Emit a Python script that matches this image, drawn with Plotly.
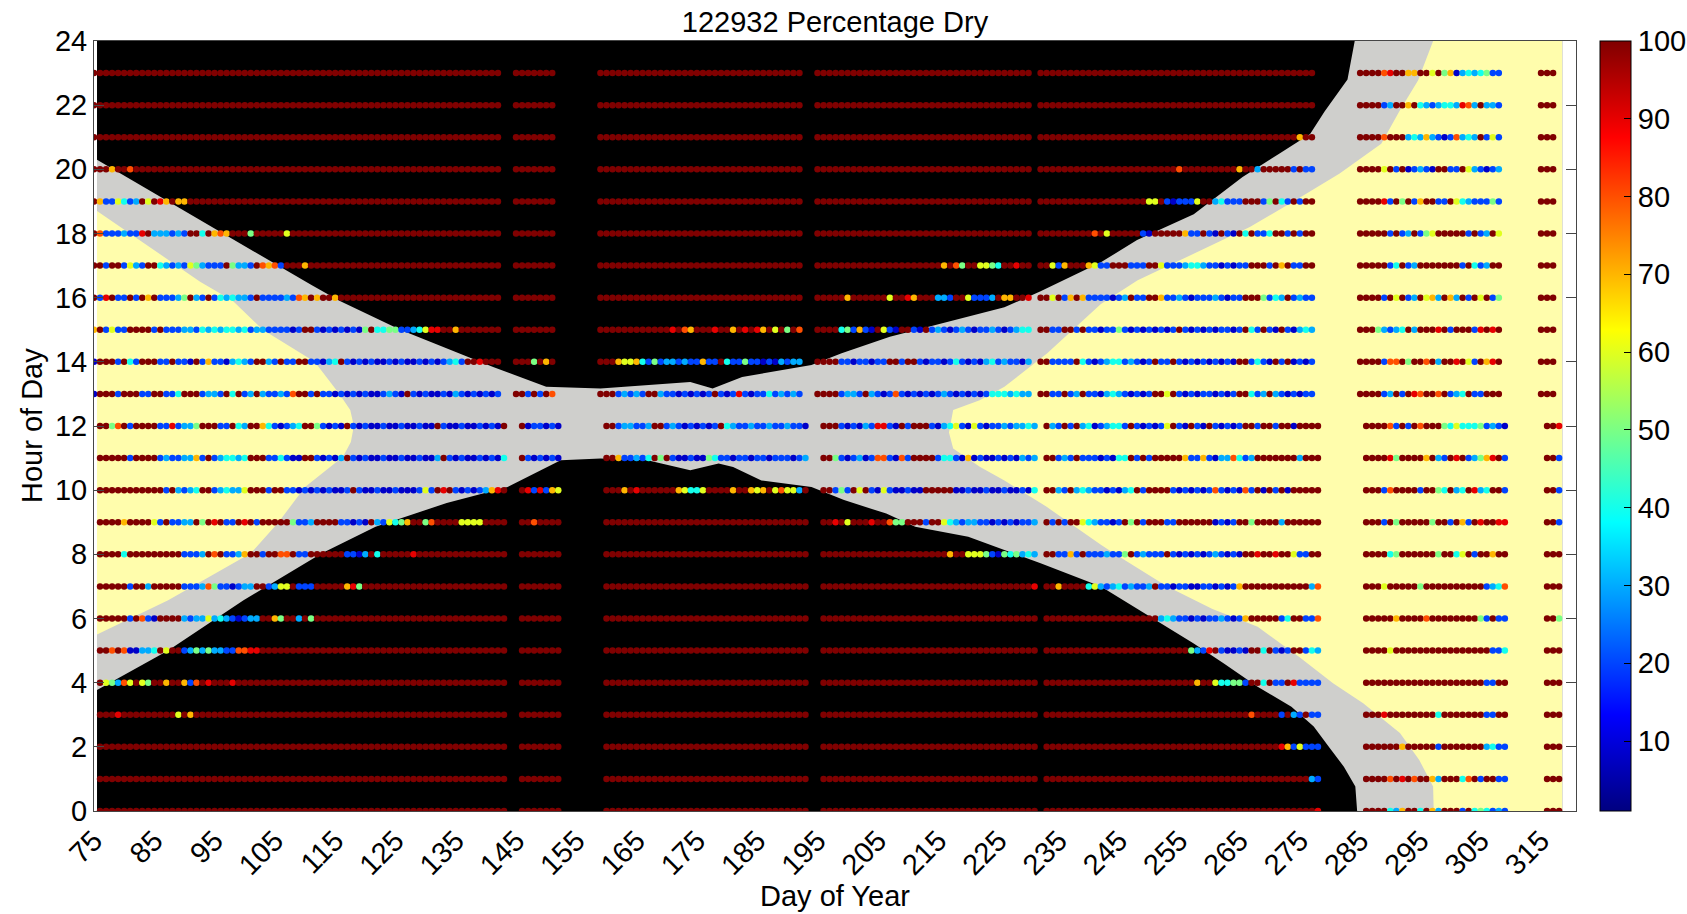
import plotly.graph_objects as go

# ---------------------------------------------------------------- text / ticks
TITLE = "122932 Percentage Dry"
X_LABEL = "Day of Year"
Y_LABEL = "Hour of Day"
X_TICKS = [75, 85, 95, 105, 115, 125, 135, 145, 155, 165, 175, 185, 195,
           205, 215, 225, 235, 245, 255, 265, 275, 285, 295, 305, 315]
Y_TICKS = [0, 2, 4, 6, 8, 10, 12, 14, 16, 18, 20, 22, 24]
CBAR_TICKS = [10, 20, 30, 40, 50, 60, 70, 80, 90, 100]
X_RANGE = [75, 320.8]
Y_RANGE = [0, 24]
C_RANGE = [1, 100]

# ---------------------------------------------------------------- background (light regime)
BG_X = [75.5, 318.5]  # extent of the background image, in days
# lower edge of twilight (end of night, morning)
NIGHT_END_DAY = [75.5, 87.3, 99.8, 112.8, 121.7, 133.5, 143.6, 149, 152.4, 159, 166.8,
                 173.9, 178.6, 181, 185.7, 194, 199.4, 206.4, 211.2, 220, 232, 242,
                 251.2, 257.4, 262.4, 268, 273.6, 277.3, 279.8, 282.3, 284.2, 284.5, 318.5]
NIGHT_END_HOUR = [3.77, 5.0, 6.57, 8.03, 8.86, 9.6, 10.1, 10.62, 10.93, 10.99, 10.93,
                  10.62, 10.83, 10.72, 10.3, 10.1, 9.69, 9.27, 8.86, 8.55, 7.72, 7.0,
                  5.95, 5.22, 4.6, 3.87, 3.25, 2.63, 2.0, 1.38, 0.76, 0.0, 0.0]
# upper edge of twilight (start of night, evening)
NIGHT_START_DAY = [75.5, 111, 115.7, 125.8, 141.2, 150, 159, 166.8, 173.9, 177.6, 182.5,
                   194, 199, 207, 214.7, 226, 232, 242, 248, 257.4, 265.5, 271.7, 276.7,
                   279.1, 282.9, 284.1, 318.5]
NIGHT_START_HOUR = [20.3, 16.4, 15.9, 15.0, 13.84, 13.22, 13.17, 13.27, 13.37, 13.17, 13.53,
                    13.9, 14.27, 14.78, 15.14, 15.7, 16.2, 17.1, 17.8, 18.6, 19.76, 20.5, 21.1,
                    21.8, 22.8, 24.0, 24.0]
# daylight, spring lobe
DAY1_START_DAY = [75.5, 87.3, 101, 105.6, 110, 116.3, 117.6, 118.1]
DAY1_START_HOUR = [5.5, 6.57, 8.03, 9.0, 10.1, 11.04, 11.5, 12.0]
DAY1_END_DAY = [118.1, 117.5, 115.7, 111.6, 103, 98, 92.6, 75.5]
DAY1_END_HOUR = [12.0, 12.5, 13.0, 14.0, 15.0, 15.9, 16.5, 18.7]
# daylight, autumn lobe
DAY2_END_DAY = [216.8, 217.5, 221.9, 226, 233.1, 242, 248.1, 257.4, 266.7, 274.2, 281.6,
                288.5, 291.6, 294.6, 297.1, 318.5]
DAY2_END_HOUR = [11.8, 12.5, 12.8, 13.22, 14.27, 15.8, 16.54, 17.38, 18.2, 19.03, 19.87,
                 20.8, 21.84, 22.77, 24.0, 24.0]
DAY2_START_DAY = [318.5, 297.2, 297.1, 294.8, 291.6, 285.5, 280.5, 274.9, 268, 260.5,
                  253, 244.4, 242, 233, 226, 221.9, 217.5]
DAY2_START_HOUR = [0.0, 0.0, 0.76, 1.59, 2.43, 3.36, 3.98, 4.8, 5.74, 6.3,
                   7.0, 8.0, 8.3, 9.48, 10.3, 10.73, 11.3]

NIGHT_COLOR = "rgb(0,0,0)"
TWILIGHT_COLOR = "rgb(207,207,204)"
DAY_COLOR = "rgb(255,253,172)"

# ---------------------------------------------------------------- dot data
# days covered by each recording block (hours 0-12 and hours 13-23 are offset by one day)
SEGMENTS_AM = [(76, 143), (146, 152), (160, 193), (196, 231), (233, 278), (286, 309), (316, 318)]
SEGMENTS_PM = [(75, 142), (145, 151), (159, 192), (195, 230), (232, 277), (285, 308), (315, 317)]
# one character per day
CODE_VALUE = {"0": 8, "1": 20, "2": 30, "3": 40, "4": 50,
              "5": 60, "6": 70, "7": 80, "8": 90, "9": 100}

HOUR_00 = ["9" * 68, "9" * 7, "9" * 34, "9" * 36, "9" * 45 + "8",
           "999932699396299919343121", "999"]
HOUR_01 = ["9" * 68, "9" * 7, "9" * 34, "9" * 36, "9" * 44 + "21",
           "999979897996299937919911", "999"]
HOUR_02 = ["9" * 68, "9" * 7, "9" * 34, "9" * 36, "9" * 39 + "8615111",
           "999999699999199999992311", "999"]
HOUR_03 = ["999" + "8" + "9" * 9 + "5" + "9" + "6" + "9" * 52, "9" * 7, "9" * 34, "9" * 36,
           "9" * 34 + "7" + "9999" + "1921911",
           "999" + "8" + "9" * 8 + "3" + "9" * 7 + "1199", "999"]
HOUR_04 = ["95427595499699617989998" + "9" * 45, "9" * 7, "9" * 34, "9" * 36,
           "9" * 25 + "699533441993911981111",
           "9" * 20 + "1199", "999"]
HOUR_05 = ["997970022395991242422117788" + "9" * 41, "9" * 7, "9" * 34, "9" * 36,
           "9" * 24 + "4218910010993910199132",
           "9999" + "5" + "9" * 15 + "9113", "999"]
HOUR_06 = ["999991971099992122523210122996499294" + "9" * 32, "9" * 7, "9" * 34, "9" * 36,
           "9" * 19 + "232110101121016999991399117",
           "99999" + "6" + "9999" + "7" + "9" * 8 + "41911", "994"]
HOUR_07 = ["99999" + "1" + "99" + "2" + "99999" + "111274110122" + "99" + "1255" + "9" + "111"
           + "99999" + "684" + "9" * 24,
           "9" * 7, "9" * 34, "9" * 35 + "8",
           "996999935" + "212312112" + "9" + "1" + "101100110101" + "6" + "9" * 11 + "27",
           "999" + "5" + "99999" + "4" + "9" * 10 + "1237", "999"]
HOUR_08 = ["9999" + "3" + "9" * 9 + "111297911269919977911" + "9" * 6 + "110293999998" + "9" * 15,
           "9" * 7, "9" * 34, "9" * 21 + "699555410434232",
           "991161911" + "1211491211191010101210109989989951199",
           "9999" + "34" + "999999" + "4" + "99" + "35" + "9" + "1" + "99" + "6" + "99", "999"]
HOUR_09 = ["9999699995" "1911229498" "9119891999" "9941129999" "1101092153" "4699479999" "55559999",
           "9979999", "9" * 34,
           "9989599989" "9744999199" "5321221101" "010112",
           "9191995321" "1019491999" "1199999901" "0199499992" "999999",
           "9991949999" "9499196198" "9988", "991"]
HOUR_10 = ["9" * 11 + "1921239912322599919911010" + "1010019100" "1001000151" "9891010126" "89",
           "9818165",
           "9996989999" "9965335999" "9699656957" "5529",
           "9914195910" "5100100999" "9900100100" "100103",
           "9921923211" "0102391999" "9101010171" "0107190919" "099999",
           "9991799991" "9943923982" "3991", "991"]
HOUR_11 = ["9999919999" "1211226191" "2332399911" "3100991010" "2910100100" "1001002910" "10010103",
           "9101010",
           "9961121394" "9100100431" "1011011011" "1012",
           "9941012017" "7107199991" "3310601001" "010212",
           "9912191110" "1033919199" "9996116102" "2731299999" "992999",
           "9999849999" "6921989124" "6891", "991"]
HOUR_12 = ["9947919999" "1181224999" "1193299631" "0123994101" "0910100100" "1001009100" "10010109",
           "9011010",
           "9912211299" "1210101019" "3211211211" "2110",
           "9991010218" "8109199910" "2351051011" "212232",
           "9219192301" "2331910101" "5910910910" "1019919919" "909999",
           "9999719197" "9994353334" "1210", "998"]
HOUR_13 = ["0999199911" "9911399912" "2193912921" "1217991911" "0101010012" "1091010010" "21010101",
           "9919197",
           "9991212199" "2110101019" "1018101131" "2121",
           "9999122192" "1017101010" "1210101013" "332322",
           "9911912911" "0232101019" "9591010110" "1019931292" "101011",
           "9999129198" "7997912391" "1999", "999"]
HOUR_14 = ["0999193199" "9119110916" "1102321992" "1911991102" "3910101001" "0100101012" "31998999",
           "9994969",
           "9996556314" "1221211611" "9311411010" "2122",
           "9999110110" "1199199101" "1013101023" "121102",
           "9911119310" "1233121019" "1191010101" "0109913109" "190101",
           "9999177949" "9792998951" "9689", "999"]
HOUR_15 = ["6915119999" "1911122132" "3233231221" "1110199101" "01010" "49334411235889969999999",
           "9999999",
           "9" * 12 + "8976999899698986959497",
           "9999341610" "9510991091" "2101210112" "101233",
           "9911991911" "0114101010" "1019101010" "1101931910" "910232",
           "9994212392" "9998919991" "8989", "999"]
HOUR_16 = ["9189119196" "9111249219" "1323221911" "1121769699" "6" + "9" * 27,
           "9" * 7, "9" * 34,
           "99999" "6" "999999" "5998699922" "1995111296" "6998",
           "9959169611" "1101291199" "6112101112" "1011999413" "291211",
           "9999195912" "9562962919" "5914", "999"]
HOUR_17 = ["9919915219" "9321215421" "1194221976" "719996" + "9" * 32,
           "9" * 7, "9" * 34, "9" * 21 + "697499554399899",
           "9951699965" "1199911199" "5111233211" "0101199919" "691199",
           "9999913912" "9999999193" "1299", "999"]
HOUR_18 = ["9711121189" "2221219939" "6769994999" "995" + "9" * 35,
           "9" * 7, "9" * 34, "9" * 36,
           "9" * 9 + "7959999910" "9999961191" "0910939113" "9919199",
           "9999919129" "1459999919" "1295", "999"]
HOUR_19 = ["9611531295986966" + "9" * 52, "9" * 7, "9" * 34, "9" * 36,
           "9" * 18 + "5591011159" "9231119991" "49319199",
           "9999819491" "6991195321" "1141", "999"]
HOUR_20 = ["9996997" + "9" * 61, "9" * 7, "9" * 34, "9" * 36,
           "9" * 23 + "7" + "9" * 9 + "6" + "99" + "2" + "9999" + "9" + "1" + "9" + "11",
           "999959190121099119521012", "999"]
HOUR_21 = ["9" * 68, "9" * 7, "9" * 34, "9" * 36, "9" * 43 + "699",
           "9999799923" "2621017232" "9151", "999"]
HOUR_22 = ["9" * 68, "9" * 7, "9" * 34, "9" * 36, "9" * 46,
           "9999129969" "3212332872" "9221", "999"]
HOUR_23 = ["9" * 68, "9" * 7, "9" * 34, "9" * 36, "9" * 46,
           "999978996699594602323411", "999"]

ROWS = [HOUR_00, HOUR_01, HOUR_02, HOUR_03, HOUR_04, HOUR_05, HOUR_06, HOUR_07,
        HOUR_08, HOUR_09, HOUR_10, HOUR_11, HOUR_12, HOUR_13, HOUR_14, HOUR_15,
        HOUR_16, HOUR_17, HOUR_18, HOUR_19, HOUR_20, HOUR_21, HOUR_22, HOUR_23]

# MATLAB "jet"
JET = [[0.0, "rgb(0,0,128)"], [0.125, "rgb(0,0,255)"], [0.375, "rgb(0,255,255)"],
       [0.625, "rgb(255,255,0)"], [0.875, "rgb(255,0,0)"], [1.0, "rgb(128,0,0)"]]

# ---------------------------------------------------------------- build points
dot_x, dot_y, dot_v = [], [], []
for hour, segs in enumerate(ROWS):
    bounds = SEGMENTS_AM if hour <= 12 else SEGMENTS_PM
    for (d0, d1), codes in zip(bounds, segs):
        for i, ch in enumerate(codes[: d1 - d0 + 1]):
            dot_x.append(d0 + i)
            dot_y.append(hour)
            dot_v.append(CODE_VALUE[ch])

FONT = "Liberation Sans, Arial, Helvetica, sans-serif"
FS = 29

fig = go.Figure()


def poly(xs, ys, color):
    fig.add_trace(go.Scatter(x=xs, y=ys, mode="lines", fill="toself", fillcolor=color,
                             line=dict(width=0, color=color), hoverinfo="skip",
                             showlegend=False))


# night everywhere
poly([BG_X[0], BG_X[1], BG_X[1], BG_X[0]], [Y_RANGE[0], Y_RANGE[0], Y_RANGE[1], Y_RANGE[1]],
     NIGHT_COLOR)
# twilight band
poly(NIGHT_END_DAY + NIGHT_START_DAY[::-1], NIGHT_END_HOUR + NIGHT_START_HOUR[::-1],
     TWILIGHT_COLOR)
# daylight lobes
poly(DAY1_START_DAY + DAY1_END_DAY, DAY1_START_HOUR + DAY1_END_HOUR, DAY_COLOR)
poly(DAY2_END_DAY + DAY2_START_DAY, DAY2_END_HOUR + DAY2_START_HOUR, DAY_COLOR)

# plot area in pixels
L, R, T, B = 94, 111, 41, 103
W, H = 1687, 914
plot_w = W - L - R
plot_h = H - T - B

fig.add_trace(go.Scatter(
    x=dot_x, y=dot_y, mode="markers", showlegend=False,
    marker=dict(size=6.5, color=dot_v, cmin=C_RANGE[0], cmax=C_RANGE[1], colorscale=JET,
                line=dict(width=0),
                colorbar=dict(x=(1600 - L) / plot_w, xanchor="left", xpad=0, ypad=0,
                              y=0.5, yanchor="middle", len=1, lenmode="fraction",
                              thickness=31, outlinecolor="black", outlinewidth=1,
                              tickvals=CBAR_TICKS, ticks="inside", ticklen=7,
                              tickcolor="black",
                              tickfont=dict(family=FONT, size=FS, color="black"))),
    hovertemplate="day %{x}<br>hour %{y}<br>%{marker.color}%<extra></extra>"))

fig.update_layout(
    width=W, height=H,
    margin=dict(l=L, r=R, t=T, b=B, autoexpand=False),
    paper_bgcolor="white", plot_bgcolor="white",
    font=dict(family=FONT, size=FS, color="black"),
    title=dict(text=TITLE, x=0.5, xref="paper", y=1 - 21.5 / H, yref="container",
               yanchor="middle", xanchor="center",
               font=dict(family=FONT, size=FS, color="black")),
    xaxis=dict(range=X_RANGE, tickvals=X_TICKS, tickangle=-45, showgrid=False,
               zeroline=False, showline=True, linecolor="rgb(70,70,70)", linewidth=1,
               mirror=True, ticks="", tickfont=dict(family=FONT, size=FS, color="black")),
    yaxis=dict(range=Y_RANGE, tickvals=Y_TICKS, showgrid=False, zeroline=False,
               showline=True, linecolor="rgb(70,70,70)", linewidth=1, mirror="ticks",
               ticks="inside", ticklen=10, tickcolor="rgb(70,70,70)",
               tickfont=dict(family=FONT, size=FS, color="black")),
    annotations=[
        dict(text=X_LABEL, xref="paper", yref="paper", x=0.5, y=-(896 - (H - B)) / plot_h,
             xanchor="center", yanchor="middle", showarrow=False,
             font=dict(family=FONT, size=FS, color="black")),
        dict(text=Y_LABEL, xref="paper", yref="paper", x=(32 - L) / plot_w, y=0.5,
             xanchor="center", yanchor="middle", textangle=-90, showarrow=False,
             font=dict(family=FONT, size=FS, color="black")),
    ],
)

# remove the browser's default page margin so the figure sits at the top-left corner
fig.write_html("out.html", config={"displayModeBar": False},
               post_script="document.body.style.margin='0';document.body.style.padding='0';")
